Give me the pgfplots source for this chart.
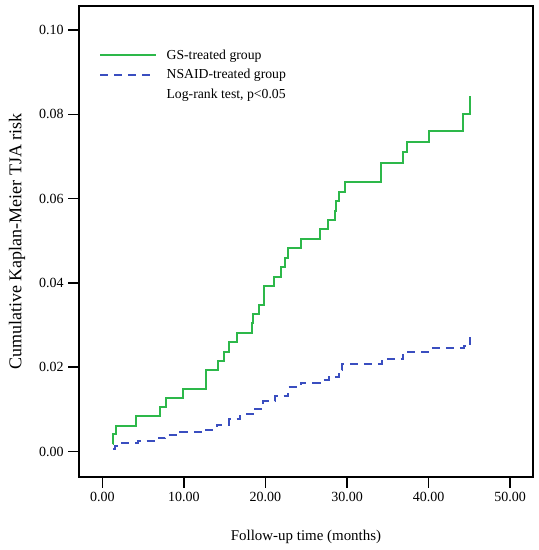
\documentclass[border=0pt]{standalone}
\usepackage{fontspec}
\setmainfont{Liberation Serif}
\usepackage{pgfplots}
\pgfplotsset{compat=1.18}
\definecolor{gsgreen}{HTML}{2DB84A}
\definecolor{nsblue}{HTML}{3A4EC0}
\pgfplotsset{longline/.style={legend image code/.code={\draw[##1] (0pt,0pt) -- (42pt,0pt);}}}

\begin{document}
\begin{tikzpicture}
\begin{axis}[
  scale only axis,
  width=340.5pt, height=353.25pt,
  xmin=-2.88, xmax=52.82,
  ymin=-0.00605, ymax=0.1057,
  xtick={0,10,20,30,40,50},
  ytick={0,0.02,0.04,0.06,0.08,0.10},
  xtick pos=bottom, ytick pos=left,
  tick align=outside,
  major tick length=8pt,
  tick style={line width=1.2pt, black},
  axis line style={line width=1.2pt},
  /pgf/number format/assume math mode=true,
  /pgf/number format/.cd, fixed, fixed zerofill, precision=2, /pgfplots/.cd,
  scaled y ticks=false,
  ticklabel style={font=\fontsize{10.5}{12}\selectfont},
  xlabel={Follow-up time (months)},
  ylabel={Cumulative Kaplan-Meier TJA risk},
  xlabel style={font=\fontsize{11.2}{13}\selectfont, at={(axis description cs:0.5,-0.127)}, anchor=center},
  ylabel style={font=\fontsize{13.5}{16}\selectfont, at={(axis description cs:-0.1366,0.5)}, anchor=center},
  legend style={draw=none, fill=none, at={(axis description cs:0,1)}, anchor=north west,
    xshift=12pt, yshift=-28.5pt, row sep=2pt, font=\fontsize{10.3}{12}\selectfont,
    /tikz/every odd column/.append style={column sep=5pt}},
  legend cell align=left,
]
\coordinate (ll) at (rel axis cs:0,0);
\coordinate (ur) at (rel axis cs:1,1);
\addplot[const plot, gsgreen, line width=1.5pt, longline] coordinates {
  (1.33,0.0018) (1.35,0.0041) (1.66,0.0061) (4.07,0.0084) (7.06,0.0106)
  (7.75,0.0128) (9.88,0.0149) (12.74,0.0193) (14.21,0.0215) (14.91,0.0236)
  (15.52,0.0259) (16.47,0.0282) (18.31,0.0304) (18.50,0.0326) (19.20,0.0348)
  (19.82,0.0393) (21.04,0.0415) (21.87,0.0437) (22.39,0.0460) (22.72,0.0482)
  (24.32,0.0504) (26.69,0.0527) (27.71,0.0549) (28.53,0.0571) (28.65,0.0594)
  (29.06,0.0616) (29.75,0.0639) (34.13,0.0685) (36.83,0.0710) (37.33,0.0734)
  (40.06,0.0760) (44.27,0.0800) (45.09,0.0843)
};
\addlegendentry{GS-treated group}
\addplot[const plot, nsblue, line width=1.5pt, dash pattern=on 6pt off 4.5pt, longline] coordinates {
  (1.3,0.0005) (1.5,0.0012) (2.1,0.0019) (4.3,0.0025) (6.8,0.0031)
  (7.7,0.0039) (9.5,0.0046) (12.7,0.0052) (14.0,0.0064) (15.5,0.0077)
  (16.9,0.0088) (18.45,0.0102) (19.75,0.0120) (21.2,0.0132) (22.8,0.0153)
  (24.3,0.0163) (26.7,0.0170) (27.75,0.0176) (29.0,0.0193) (29.4,0.0207)
  (34.3,0.0219) (36.9,0.0237) (40.1,0.0245) (44.35,0.0250) (45.15,0.0272)
};
\addlegendentry{NSAID-treated group}
\addlegendimage{empty legend}
\addlegendentry{Log-rank test, p<0.05}
\end{axis}
\pgfresetboundingbox
\path[use as bounding box] ([shift={(-59.25pt,-54.75pt)}]ll) rectangle ([shift={(4.5pt,4.5pt)}]ur);
\end{tikzpicture}
\end{document}
